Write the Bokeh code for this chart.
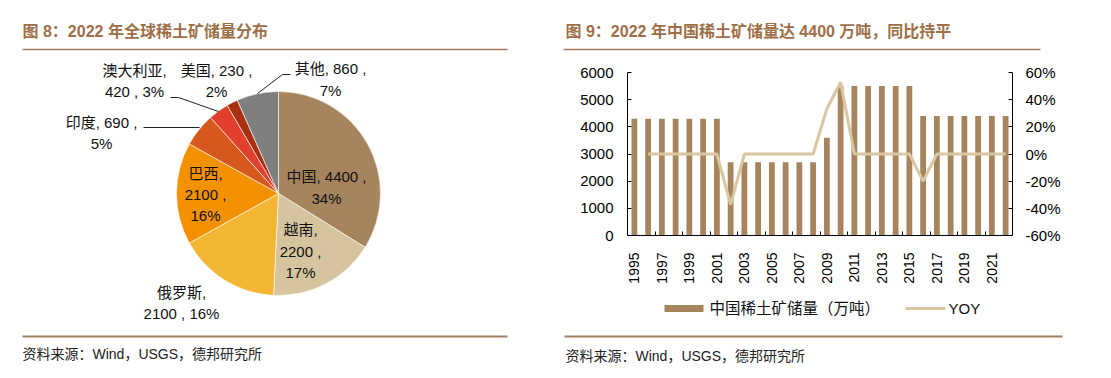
import math
from bokeh.plotting import figure
from bokeh.models import Range1d, LinearAxis, FixedTicker, PrintfTickFormatter
from bokeh.layouts import row, column
from bokeh.core.properties import value
from bokeh.embed import file_html
from bokeh.resources import INLINE

# ---------------- data ----------------
pie_names = ["中国", "越南", "俄罗斯", "巴西", "印度", "澳大利亚", "美国", "其他"]
pie_values = [4400, 2200, 2100, 2100, 690, 420, 230, 860]
pie_pcts = [34, 17, 16, 16, 5, 3, 2, 7]

years = [1995, 1996, 1997, 1998, 1999, 2000, 2001, 2002, 2003, 2004, 2005, 2006, 2007, 2008,
         2009, 2010, 2011, 2012, 2013, 2014, 2015, 2016, 2017, 2018, 2019, 2020, 2021, 2022]
reserves = [4300, 4300, 4300, 4300, 4300, 4300, 4300, 2700, 2700, 2700, 2700, 2700, 2700, 2700,
            3600, 5500, 5500, 5500, 5500, 5500, 5500, 4400, 4400, 4400, 4400, 4400, 4400, 4400]
yoy = [None, 0, 0, 0, 0, 0, 0, -37.2, 0, 0, 0, 0, 0, 0,
       33.3, 52.8, 0, 0, 0, 0, 0, -20.0, 0, 0, 0, 0, 0, 0]

year_ticks = [1995, 1997, 1999, 2001, 2003, 2005, 2007, 2009, 2011, 2013, 2015, 2017, 2019, 2021]
res_ticks = [0, 1000, 2000, 3000, 4000, 5000, 6000]
yoy_ticks = [-60, -40, -20, 0, 20, 40, 60]

title_left = "图 8：2022 年全球稀土矿储量分布"
title_right = "图 9：2022 年中国稀土矿储量达 4400 万吨，同比持平"
source_text = "资料来源：Wind，USGS，德邦研究所"
legend_bar = "中国稀土矿储量（万吨）"
legend_line = "YOY"

# ---------------- styles ----------------
FONT = "Liberation Sans, Noto Sans CJK SC"
TITLE_C = "#9E6F47"
RULE_C = "#A47D5C"
BAR_C = "#A6845E"
LINE_C = "#D8C7A0"
pie_colors = ["#A6845E", "#D5C49E", "#F2B633", "#F49100", "#D6581C", "#E2402E", "#A8300F", "#7F7F7F"]
label_formats = ["{n}, {v} ,\n{p}%", "{n},\n{v} ,\n{p}%", "{n},\n{v} , {p}%", "{n},\n{v} ,\n{p}%",
                 "{n}, {v} ,\n{p}%", "{n},\n{v} , {p}%", "{n}, {v} ,\n{p}%", "{n}, {v} ,\n{p}%"]
label_x = [326, 300, 181, 205, 101, 134, 216, 330]
label_y = [187, 250.5, 302.5, 194, 132.5, 80.5, 80.5, 79]

PAGE_H = 370
XR = 550          # window x where the right panel starts
RW = 1111 - XR    # right panel width
HEAD_H = 56
FOOT_Y = 290


def canvas(w, h, x0, y0):
    """A figure whose frame is the whole canvas, in window-pixel coordinates."""
    p = figure(width=w, height=h, x_range=Range1d(x0, x0 + w), y_range=Range1d(y0 + h, y0),
               output_backend="svg", toolbar_location=None, x_axis_type=None, y_axis_type=None,
               min_border=0, title=None)
    p.outline_line_color = None
    p.background_fill_color = "white"
    p.border_fill_color = "white"
    return p


def txt(p, x, y, s, size, color, bold=False, align="left"):
    p.text(x=[x], y=[y], text=[s], text_font=value(FONT), text_font_size=size,
           text_color=color, text_font_style="bold" if bold else "normal",
           text_baseline="middle", text_align=align)


# ---------------- left panel (pie) ----------------
L = canvas(550, PAGE_H, 0, 0)
txt(L, 22, 31, title_left, "16px", TITLE_C, bold=True)
L.segment(x0=[22, 22], y0=[49, 336], x1=[507, 507], y1=[49, 336], line_color=RULE_C,
          line_width=[1.3, 2.2])
txt(L, 22, 353, source_text, "14px", "#222222")

CX, CY, R = 278, 193, 102
total = sum(pie_values)
starts, ends = [], []
cum = 0
for v in pie_values:
    starts.append(math.pi / 2 - 2 * math.pi * cum / total)
    cum += v
    ends.append(math.pi / 2 - 2 * math.pi * cum / total)
L.wedge(x=CX, y=CY, radius=R, start_angle=starts, end_angle=ends, direction="clock",
        fill_color=pie_colors, line_color="white", line_width=0.6)

labels = [f.format(n=n, v=v, p=p) for f, n, v, p in zip(label_formats, pie_names, pie_values, pie_pcts)]
L.multi_line(xs=[[143, 199], [170, 178, 218], [290, 282, 257]],
             ys=[[127, 127], [97, 97, 111], [74, 74, 93]], line_color="#222222", line_width=1)
L.text(x=label_x, y=label_y, text=labels, text_align="center", text_baseline="middle",
       text_font=value(FONT), text_font_size="15px", text_line_height=1.25, text_color="#111111")

# ---------------- right panel header ----------------
H = canvas(RW, HEAD_H, XR, 0)
txt(H, 565, 31, title_right, "16px", TITLE_C, bold=True)
H.segment(x0=[563], y0=[49], x1=[1040], y1=[49], line_color=RULE_C, line_width=1.3)

# ---------------- right panel chart ----------------
B = figure(width=RW, height=FOOT_Y - HEAD_H, x_range=Range1d(1994.5, 2022.5), y_range=Range1d(0, 6000),
           output_backend="svg", toolbar_location=None, title=None,
           min_border_left=627 - XR, min_border_right=1111 - 1012,
           min_border_top=72 - HEAD_H, min_border_bottom=FOOT_Y - 235)
B.grid.visible = False
B.outline_line_color = None
B.background_fill_color = "white"
B.border_fill_color = "white"
B.vbar(x=years, top=reserves, width=0.42, fill_color=BAR_C, line_color=None)
B.extra_y_ranges = {"yoy": Range1d(-60, 60)}
yy = [y for y, v in zip(years, yoy) if v is not None]
yv = [v for v in yoy if v is not None]
B.line(x=yy, y=yv, y_range_name="yoy", line_color=LINE_C, line_width=3)

xa = B.xaxis[0]
xa.ticker = FixedTicker(ticks=year_ticks, minor_ticks=[t + 1.5 for t in year_ticks[:-1]])
xa.major_label_orientation = math.pi / 2
xa.major_tick_line_color = None
xa.minor_tick_in = 4
xa.minor_tick_out = 0
xa.minor_tick_line_color = "black"
xa.axis_line_color = "black"
xa.major_label_text_font = FONT
xa.major_label_text_font_size = "14px"
xa.major_label_text_color = "black"
xa.major_label_standoff = 11

ya = B.yaxis[0]
ya.ticker = FixedTicker(ticks=res_ticks)
ya.major_tick_in = 4
ya.major_tick_out = 0
ya.major_tick_line_color = "black"
ya.axis_line_color = "black"
ya.major_label_text_font = FONT
ya.major_label_text_font_size = "15px"
ya.major_label_text_color = "black"
ya.major_label_standoff = 14

ra = LinearAxis(y_range_name="yoy", ticker=FixedTicker(ticks=yoy_ticks),
                formatter=PrintfTickFormatter(format="%d%%"))
ra.major_tick_in = 4
ra.major_tick_out = 0
ra.minor_tick_line_color = None
ra.major_tick_line_color = "black"
ra.axis_line_color = "black"
ra.major_label_text_font = FONT
ra.major_label_text_font_size = "15px"
ra.major_label_text_color = "black"
ra.major_label_standoff = 13
B.add_layout(ra, "right")

# ---------------- right panel footer (legend, rule, source) ----------------
F = canvas(RW, PAGE_H - FOOT_Y, XR, FOOT_Y)
F.quad(left=[664], right=[703], top=[304.5], bottom=[311.5], fill_color=BAR_C, line_color=None)
txt(F, 709, 308, legend_bar, "15.5px", "#111111")
F.line(x=[905, 945], y=[308, 308], line_color=LINE_C, line_width=3)
txt(F, 948, 308, legend_line, "15px", "#111111")
F.segment(x0=[564], y0=[336], x1=[1062], y1=[336], line_color=RULE_C, line_width=2.2)
txt(F, 565, 355, source_text, "14px", "#222222")

page = row(L, column(H, column(B), F))
open("out.html", "w").write(file_html(page, INLINE))
